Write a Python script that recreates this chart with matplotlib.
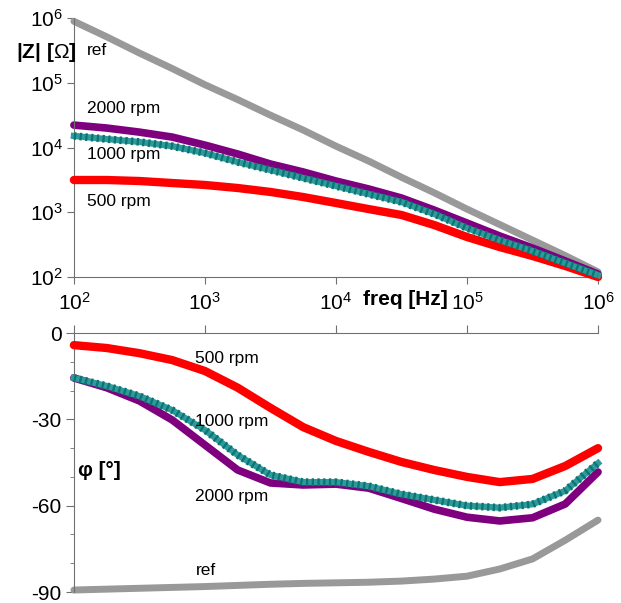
import matplotlib
matplotlib.use("Agg")
import matplotlib.pyplot as plt
import numpy as np

plt.rcParams['font.family'] = ['Liberation Sans', 'DejaVu Sans']
plt.rcParams['mathtext.fontset'] = 'custom'
plt.rcParams['mathtext.rm'] = 'Liberation Sans'
plt.rcParams['mathtext.it'] = 'Liberation Sans'

# frequencies (Hz), log10 steps of 0.25 from 1e2 to 1e6
freq = 10 ** np.arange(2, 6.01, 0.25)

# |Z| in ohm
z_ref = [890000, 513000, 288000, 166000, 93300, 55000, 31600, 18600, 10500,
         6170, 3470, 2000, 1120, 646, 372, 214, 120]
z_2000 = [22200, 20000, 17300, 14500, 10900, 7940, 5560, 4190, 3040,
          2290, 1660, 1080, 682, 430, 281, 177, 111]
z_1000 = [15100, 13500, 12200, 10500, 8220, 5970, 4490, 3380, 2540,
          1910, 1440, 940, 571, 372, 252, 164, 107]
z_500 = [3150, 3150, 3040, 2830, 2640, 2370, 2060, 1720, 1390,
         1120, 908, 635, 415, 290, 211, 148, 100]

# phase in degrees
ph_500 = [-4.2, -5.2, -7, -9.4, -13.2, -19, -26, -32.7, -37.5, -41.3,
          -44.8, -47.6, -50, -51.8, -50.7, -46.2, -40]
ph_1000 = [-15.6, -18.4, -21.9, -26.8, -33.7, -42.4, -49.3, -51.8, -51.8,
           -53.2, -56, -58, -60, -60.7, -59.5, -54.8, -45.2]
ph_2000 = [-15.6, -19, -23.6, -30.2, -38.9, -47.6, -52.1, -52.8, -52.5,
           -53.9, -57.5, -61.2, -64, -65.3, -64.2, -59.4, -48.3]
ph_ref = [-89.3, -89, -88.7, -88.4, -88.1, -87.7, -87.3, -87, -86.8,
          -86.6, -86.2, -85.5, -84.5, -82, -78.5, -72, -65]

c_ref, c_2000, c_1000, c_500 = '#999999', '#7f007f', '#2e9a9a', '#ff0000'
spine_c = '#707070'

fig = plt.figure(figsize=(6.21, 6.03), dpi=100)
ax1 = fig.add_axes([0.119, 0.5406, 0.844, 0.4295])
ax2 = fig.add_axes([0.119, 0.0182, 0.844, 0.4295])


def teal_line(ax, x, y):
    # solid line plus a dark dotted overlay to mimic the cross markers
    ax.plot(x, y, color=c_1000, lw=4.5, clip_on=False, zorder=3,
            solid_joinstyle='round')
    ax.plot(x, y, color='#0b7474', lw=5.5, ls=(0, (0.3, 0.45)),
            clip_on=False, zorder=3)


def curve(ax, x, y, c, lw, z):
    ax.plot(x, y, color=c, lw=lw, clip_on=False, zorder=z,
            solid_joinstyle='round', solid_capstyle='round')


# top panel: |Z|
curve(ax1, freq, z_ref, c_ref, 5, 2)
curve(ax1, freq, z_500, c_500, 6, 3)
teal_line(ax1, freq, z_1000)
curve(ax1, freq, z_2000, c_2000, 5.5, 2.5)
ax1.set_xscale('log')
ax1.set_yscale('log')
ax1.set_xlim(1e2, 1e6)
ax1.set_ylim(1e2, 1e6)
dec = [1e2, 1e3, 1e4, 1e5, 1e6]
declab = ['$10^{2}$', '$10^{3}$', '$10^{4}$', '$10^{5}$', '$10^{6}$']
ax1.set_xticks(dec)
ax1.set_xticklabels(declab)
ax1.set_yticks(dec)
ax1.set_yticklabels(declab)
ax1.minorticks_off()
for s in ['top', 'right']:
    ax1.spines[s].set_visible(False)
for s in ['left', 'bottom']:
    ax1.spines[s].set_color(spine_c)
ax1.tick_params(direction='out', length=5, color=spine_c, labelsize=15,
                pad=3)
ax1.tick_params(axis='x', pad=6)

ax1.text(0.025, 0.876, 'ref', transform=ax1.transAxes, fontsize=12.5,
         va='center')
for lab, yy in [('2000 rpm', 0.65), ('1000 rpm', 0.472), ('500 rpm', 0.29)]:
    ax1.text(0.025, yy, lab, transform=ax1.transAxes, fontsize=12.5,
             va='center')

fig.text(0.025, 0.913, '|Z| [$\\Omega$]', fontsize=15, fontweight='bold',
         va='center')
fig.text(0.652, 0.503, 'freq [Hz]', fontsize=15, fontweight='bold',
         ha='center', va='center')

# bottom panel: phase
curve(ax2, freq, ph_ref, c_ref, 5, 2)
curve(ax2, freq, ph_500, c_500, 6, 3)
teal_line(ax2, freq, ph_1000)
curve(ax2, freq, ph_2000, c_2000, 5.5, 2.5)
ax2.set_xscale('log')
ax2.set_xlim(1e2, 1e6)
ax2.set_ylim(-90, 0)
ax2.xaxis.tick_top()
ax2.set_xticks(dec)
ax2.set_xticklabels([])
ax2.xaxis.set_minor_locator(matplotlib.ticker.NullLocator())
ax2.set_yticks([0, -30, -60, -90])
ax2.set_yticklabels(['0', '-30', '-60', '-90'])
ax2.set_yticks(np.arange(-80, 0, 10), minor=True)
for s in ['bottom', 'right']:
    ax2.spines[s].set_visible(False)
for s in ['left', 'top']:
    ax2.spines[s].set_color(spine_c)
ax2.tick_params(direction='out', length=6, color=spine_c, labelsize=15,
                pad=3)
ax2.tick_params(which='minor', direction='out', length=3, color=spine_c)

ax2.text(0.232, 0.9, '500 rpm', transform=ax2.transAxes, fontsize=12.5,
         va='center')
ax2.text(0.232, 0.66, '1000 rpm', transform=ax2.transAxes, fontsize=12.5,
         va='center')
ax2.text(0.232, 0.37, '2000 rpm', transform=ax2.transAxes, fontsize=12.5,
         va='center')
ax2.text(0.232, 0.085, 'ref', transform=ax2.transAxes, fontsize=12.5,
         va='center')
fig.text(0.126, 0.22, 'φ [°]', fontsize=15, fontweight='bold', va='center')

fig.savefig('out.png', dpi=100)
